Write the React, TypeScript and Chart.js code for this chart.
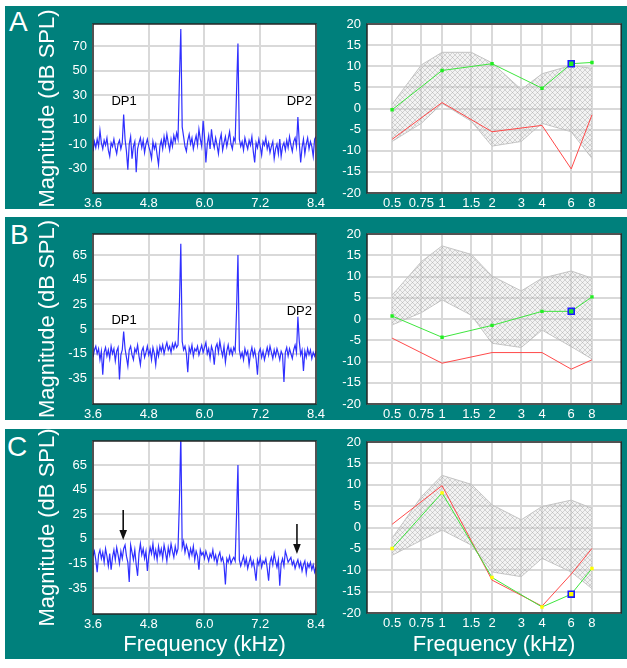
import React, { useEffect, useRef } from 'react';
import { Chart, registerables } from 'chart.js';

Chart.register(...registerables);

const FONT = "'Liberation Sans', Arial, Helvetica, sans-serif";
const TEAL = '#00807c';
const GRID = '#d9d9d9';

// ---------- Spectra (left column) ----------
const SPEC_START_KHZ = 3.6;
const SPEC_STEP_KHZ = 0.03;
const SPEC_X_TICKS = [3.6, 4.8, 6.0, 7.2, 8.4];
const SPEC_A_Y_TICKS = [70, 50, 30, 10, -10, -30];
const SPEC_BC_Y_TICKS = [65, 45, 25, 5, -15, -35];

const SPEC_A = [
  -16, -8, -13, -6, -12, 1, -9, -14, -7, -11, -5, -15, -20, -9, -12, -6, -13, -18, -10, -7,
  -14, -9, 14, -6, -16, -31, -10, -4, -22, -12, -8, -33, -14, -9, -5, -13, -7, -17, -10, -6,
  -12, -16, -22, -8, -14, -10, -19, -27, -12, -7, -14, -4, -11, -2, -9, -15, -6, -12, -3, -8,
  -1, -6, 42, 84, 4, -4, -12, -16, -7, -2, -10, -5, -14, -8, -3, -11, 2, -6, -12, 9,
  -4, -25, -10, -3, -14, 2, -8, -13, -5, -11, -18, -7, -2, -15, -9, -4, -12, -6, 0, -10,
  -14, -5, -8, 33, 72, -6, -12, -8, -15, -5, -10, -14, -7, -11, -4, -16, -25, -9, -13, -6,
  -12, -19, -8, -11, -5, -14, -9, -17, -12, -8, -22, -14, -10, -18, -6, -20, -12, -9, -15, -7,
  -13, -4, -11, -16, -8, -5, -12, 12, -9, -25, -13, -6, -18, -10, -5, -14, -8, -12, -20, -6,
  -4,
];

const SPEC_B = [
  -18, -12, -9, -15, -11, -20, -13, -32, -14, -10, -17, -12, -19, -9, -15, -11, -21, -13, -10, -36,
  -16, -12, 3, -11, -18, -25, -12, -9, -16, -20, -11, -14, -8, -17, -24, -13, -10, -18, -14, -9,
  -16, -12, -20, -10, -15, -24, -11, -17, -9, -13, -8, -15, -10, -6, -12, -9, -14, -7, -11, -6,
  -10, -8, 25, 74, -5, -12, -9, -15, -30, -10, -14, -8, -17, -11, -13, -9, -16, -12, -8, -14,
  -10, -6, -15, -11, -19, -9, -13, -24, -10, -7, -14, -5, -12, -17, -9, -22, -13, -8, -15, -11,
  -16, -10, -13, 20, 65, -12, -18, -14, -20, -11, -16, -13, -24, -15, -10, -17, -12, -19, -32, -14,
  -11, -18, -13, -20, -15, -10, -16, -9, -14, -19, -12, -17, -11, -15, -20, -13, -16, -38, -14, -10,
  -17, -11, -15, -19, -12, -8, -14, 15, -5, -16, -12, -29, -13, -18, -11, -16, -12, -19, -14, -17,
  -13,
];

const SPEC_C = [
  -9, -5, -12, -22, -8, -4, -11, -6, -14, -3, -9, -17, -7, -20, -10, -4, -12, -2, -8, -15,
  -5, -11, -3, 0, -9, -14, -30, 0, -6, -12, -4, -16, -25, -7, 1, -8, -3, -11, -5, -21,
  -9, -2, -7, 1, -10, -4, -12, -1, -8, -3, -11, 0, -6, -13, -2, -8, 1, -5, -10, -1,
  -7, -3, 35, 90, -2, 3, -6, 0, -4, -10, -3, -8, -1, -12, -5, -9, -20, -4, -8, -6,
  -11, -5, -9, -13, -7, -10, -4, -12, -8, -15, -9, -6, -13, -10, -16, -32, -11, -14, -9, -15,
  -12, -10, -13, 25, 65, -12, -17, -13, -9, -16, -11, -19, -14, -10, -17, -13, -20, -29, -12, -16,
  -10, -18, -13, -15, -11, -19, -29, -14, -10, -16, -7, -13, -18, -12, -33, -15, -11, -17, -5, -9,
  -14, -12, -10, -16, -13, -19, -15, -12, -18, -14, -21, -16, -13, -23, -15, -18, -14, -20, -16, -22,
  -18,
];

// labels / arrows in data units (kHz, dB SPL)
const NOTES_A = [
  { text: 'DP1', x: 4.27, y: 24.5 },
  { text: 'DP2', x: 8.04, y: 24.5 },
];
const NOTES_B = [
  { text: 'DP1', x: 4.27, y: 12.3 },
  { text: 'DP2', x: 8.04, y: 19.6 },
];
const ARROWS_C = [
  { x: 4.25, from: 28.4, to: 4.0 },
  { x: 7.99, from: 17.0, to: -7.3 },
];

// ---------- DP-grams (right column) ----------
const DPGRAM_X_TICKS = [0.5, 0.75, 1, 1.5, 2, 3, 4, 6, 8];
const DPGRAM_Y_TICKS = [20, 15, 10, 5, 0, -5, -10, -15, -20];
const DP_FREQS = [0.5, 1, 2, 4, 6, 8];
const NORM_FREQS = [0.5, 0.75, 1, 1.5, 2, 3, 4, 6, 8];
const PROBE_FREQ = 6;

const DP_A = [-0.3, 9.0, 10.6, 4.8, 10.6, 10.9];
const NOISE_A = [-7.3, 1.4, -5.5, -4.0, -14.3, -1.5];
const NORM_HI_A = [1.0, 10.3, 13.3, 13.3, 10.8, 4.5, 8.2, 10.2, 9.5];
const NORM_LO_A = [-7.8, -3.5, 1.2, -3.0, -8.9, -7.8, -3.5, -5.5, -11.8];

const DP_B = [0.7, -4.3, -1.5, 1.8, 1.8, 5.2];
const NOISE_B = [-4.5, -10.4, -7.9, -7.9, -11.8, -9.6];
const NORM_HI_B = [5.6, 13.5, 17.2, 15.2, 10.1, 6.6, 9.6, 11.3, 9.6];
const NORM_LO_B = [-1.4, 1.5, 4.5, 0.9, -5.7, -6.7, -2.6, -6.5, -9.4];

const DP_C = [-4.9, 8.1, -11.7, -18.6, -15.6, -9.6];
const NOISE_C = [0.75, 9.8, -12.3, -18.4, -10.9, -4.9];
const NORM_HI_C = [-2.5, 7.2, 12.2, 10.1, 5.3, 1.8, 4.9, 6.4, 4.5];
const NORM_LO_C = [-6.5, -3.0, -0.6, -4.1, -10.4, -11.5, -7.2, -10.4, -14.3];

type Geo = { top: number; bottom: number; left: number; right: number; yW: number; xH: number };
type Note = { text: string; x: number; y: number };
type Arrow = { x: number; from: number; to: number };

const PAGE_W = 627;
const PAGE_H = 668;

function framePlugin() {
  return {
    id: 'frame',
    beforeDraw(chart: any) {
      const a = chart.chartArea;
      const ctx = chart.ctx;
      ctx.save();
      ctx.fillStyle = '#ffffff';
      ctx.fillRect(a.left, a.top, a.right - a.left, a.bottom - a.top);
      ctx.restore();
    },
    afterDraw(chart: any) {
      const a = chart.chartArea;
      const ctx = chart.ctx;
      ctx.save();
      ctx.strokeStyle = '#262626';
      ctx.lineWidth = 1.5;
      ctx.strokeRect(a.left, a.top, a.right - a.left, a.bottom - a.top);
      ctx.restore();
    },
  };
}

function notesPlugin(notes: Note[], arrows: Arrow[]) {
  return {
    id: 'notes',
    afterDatasetsDraw(chart: any) {
      const ctx = chart.ctx;
      const xs = chart.scales.x;
      const ys = chart.scales.y;
      ctx.save();
      ctx.fillStyle = '#000';
      ctx.font = `13px ${FONT}`;
      ctx.textAlign = 'center';
      ctx.textBaseline = 'middle';
      notes.forEach((n) => ctx.fillText(n.text, xs.getPixelForValue(n.x), ys.getPixelForValue(n.y)));
      arrows.forEach((a) => {
        const x = xs.getPixelForValue(a.x);
        const y0 = ys.getPixelForValue(a.from);
        const y1 = ys.getPixelForValue(a.to);
        ctx.strokeStyle = '#111';
        ctx.fillStyle = '#111';
        ctx.lineWidth = 1.6;
        ctx.beginPath();
        ctx.moveTo(x, y0);
        ctx.lineTo(x, y1 - 8);
        ctx.stroke();
        ctx.beginPath();
        ctx.moveTo(x - 3.8, y1 - 10);
        ctx.lineTo(x + 3.8, y1 - 10);
        ctx.lineTo(x, y1);
        ctx.closePath();
        ctx.fill();
      });
      ctx.restore();
    },
  };
}

const tickFont = { family: FONT, size: 13 };
const titleFont = { family: FONT, size: 22 };

function spectrumConfig(
  values: number[],
  yMin: number,
  yMax: number,
  yTicks: number[],
  notes: Note[],
  arrows: Arrow[],
  xTitle: boolean,
  geo: Geo
): any {
  const pts = values.map((v, i) => ({ x: SPEC_START_KHZ + i * SPEC_STEP_KHZ, y: v }));
  return {
    type: 'line',
    data: {
      datasets: [
        {
          data: pts,
          borderColor: '#2f2fff',
          borderWidth: 1.2,
          pointRadius: 0,
          tension: 0,
          fill: false,
        },
      ],
    },
    options: {
      responsive: false,
      animation: false,
      events: [],
      layout: {
        padding: {
          left: geo.left - geo.yW,
          top: geo.top,
          right: PAGE_W - geo.right,
          bottom: PAGE_H - geo.bottom - geo.xH,
        },
      },
      plugins: { legend: { display: false }, tooltip: { enabled: false } },
      scales: {
        x: {
          type: 'linear',
          min: 3.6,
          max: 8.4,
          afterFit: (s: any) => {
            s.height = geo.xH;
          },
          afterBuildTicks: (s: any) => {
            s.ticks = SPEC_X_TICKS.map((v) => ({ value: v }));
          },
          ticks: {
            color: '#fff',
            font: tickFont,
            padding: 3,
            autoSkip: false,
            maxRotation: 0,
            callback: (v: any) => Number(v).toFixed(1),
          },
          grid: { color: GRID, lineWidth: 2, drawTicks: false },
          border: { display: false },
          title: {
            display: xTitle,
            text: 'Frequency (kHz)',
            color: '#fff',
            font: titleFont,
            padding: { top: 0, bottom: 0 },
          },
        },
        y: {
          type: 'linear',
          min: yMin,
          max: yMax,
          afterFit: (s: any) => {
            s.width = geo.yW;
          },
          afterBuildTicks: (s: any) => {
            s.ticks = yTicks.map((v) => ({ value: v }));
          },
          ticks: {
            color: '#fff',
            font: tickFont,
            padding: 6,
            autoSkip: false,
            callback: (v: any) => String(v),
          },
          grid: { color: GRID, lineWidth: 2, drawTicks: false },
          border: { display: false },
          title: {
            display: true,
            text: 'Magnitude (dB SPL)',
            color: '#fff',
            font: titleFont,
            padding: { top: 30, bottom: 0 },
          },
        },
      },
    },
    plugins: [framePlugin(), notesPlugin(notes, arrows)],
  };
}

function dpgramConfig(
  dp: number[],
  noise: number[],
  hi: number[],
  lo: number[],
  dotColor: string,
  hatch: any,
  xTitle: boolean,
  geo: Geo
): any {
  const probeIdx = DP_FREQS.indexOf(PROBE_FREQ);
  return {
    type: 'line',
    data: {
      datasets: [
        {
          data: [{ x: PROBE_FREQ, y: dp[probeIdx] }],
          showLine: false,
          pointStyle: 'rect',
          pointRadius: 4.2,
          pointBorderColor: '#1a1aff',
          pointBackgroundColor: dotColor,
          pointBorderWidth: 1.6,
        },
        {
          data: DP_FREQS.map((f, i) => ({ x: f, y: dp[i] })),
          borderColor: '#3ee63e',
          borderWidth: 1,
          pointStyle: 'rect',
          pointRadius: 2.4,
          pointBackgroundColor: dotColor,
          pointBorderColor: dotColor,
          pointBorderWidth: 0,
          tension: 0,
          fill: false,
        },
        {
          data: DP_FREQS.map((f, i) => ({ x: f, y: noise[i] })),
          borderColor: '#ff4a4a',
          borderWidth: 1,
          pointRadius: 0,
          tension: 0,
          fill: false,
        },
        {
          data: NORM_FREQS.map((f, i) => ({ x: f, y: hi[i] })),
          borderColor: '#c4c4c4',
          borderWidth: 1,
          pointRadius: 0,
          tension: 0,
          fill: '+1',
          backgroundColor: hatch,
        },
        {
          data: NORM_FREQS.map((f, i) => ({ x: f, y: lo[i] })),
          borderColor: '#c4c4c4',
          borderWidth: 1,
          pointRadius: 0,
          tension: 0,
          fill: false,
        },
      ],
    },
    options: {
      responsive: false,
      animation: false,
      events: [],
      layout: {
        padding: {
          left: geo.left - geo.yW,
          top: geo.top,
          right: PAGE_W - geo.right,
          bottom: PAGE_H - geo.bottom - geo.xH,
        },
      },
      plugins: { legend: { display: false }, tooltip: { enabled: false } },
      scales: {
        x: {
          type: 'logarithmic',
          min: 0.353,
          max: 12,
          afterFit: (s: any) => {
            s.height = geo.xH;
          },
          afterBuildTicks: (s: any) => {
            s.ticks = DPGRAM_X_TICKS.map((v) => ({ value: v }));
          },
          ticks: {
            color: '#fff',
            font: tickFont,
            padding: 3,
            autoSkip: false,
            maxRotation: 0,
            callback: (v: any) => String(v),
          },
          grid: { color: GRID, lineWidth: 2, drawTicks: false },
          border: { display: false },
          title: {
            display: xTitle,
            text: 'Frequency (kHz)',
            color: '#fff',
            font: titleFont,
            padding: { top: 0, bottom: 0 },
          },
        },
        y: {
          type: 'linear',
          min: -20,
          max: 20,
          afterFit: (s: any) => {
            s.width = geo.yW;
          },
          afterBuildTicks: (s: any) => {
            s.ticks = DPGRAM_Y_TICKS.map((v) => ({ value: v }));
          },
          ticks: {
            color: '#fff',
            font: tickFont,
            padding: 6,
            autoSkip: false,
            callback: (v: any) => String(v),
          },
          grid: { color: GRID, lineWidth: 2, drawTicks: false },
          border: { display: false },
        },
      },
    },
    plugins: [framePlugin()],
  };
}

function makeHatch(): any {
  const c = document.createElement('canvas');
  c.width = 5;
  c.height = 5;
  const g = c.getContext('2d');
  if (!g) return 'rgba(180,180,180,0.4)';
  g.fillStyle = 'rgba(220,220,220,0.35)';
  g.fillRect(0, 0, 5, 5);
  g.strokeStyle = 'rgba(140,140,140,0.55)';
  g.lineWidth = 0.6;
  g.beginPath();
  g.moveTo(0, 0);
  g.lineTo(5, 5);
  g.moveTo(5, 0);
  g.lineTo(0, 5);
  g.stroke();
  return g.createPattern(c, 'repeat');
}

const PANELS = [
  { letter: 'A', top: 6, height: 203, letterTop: 8, letterLeft: 9 },
  { letter: 'B', top: 217, height: 203, letterTop: 221, letterLeft: 10 },
  { letter: 'C', top: 429, height: 230, letterTop: 433, letterLeft: 7 },
];

export default function App() {
  const r0 = useRef<HTMLCanvasElement>(null);
  const r1 = useRef<HTMLCanvasElement>(null);
  const r2 = useRef<HTMLCanvasElement>(null);
  const r3 = useRef<HTMLCanvasElement>(null);
  const r4 = useRef<HTMLCanvasElement>(null);
  const r5 = useRef<HTMLCanvasElement>(null);
  const refs = [r0, r1, r2, r3, r4, r5];

  useEffect(() => {
    const hatch = makeHatch();
    const charts: Chart[] = [];
    charts.push(
      new Chart(
        r0.current!,
        spectrumConfig(SPEC_A, -50, 88, SPEC_A_Y_TICKS, NOTES_A, [], false, {
          top: 24, bottom: 193, left: 93, right: 316, yW: 88, xH: 30,
        })
      )
    );
    charts.push(
      new Chart(
        r1.current!,
        dpgramConfig(DP_A, NOISE_A, NORM_HI_A, NORM_LO_A, '#22ee22', hatch, false, {
          top: 24, bottom: 193, left: 367, right: 622, yW: 37, xH: 30,
        })
      )
    );
    charts.push(
      new Chart(
        r2.current!,
        spectrumConfig(SPEC_B, -55.8, 82, SPEC_BC_Y_TICKS, NOTES_B, [], false, {
          top: 234, bottom: 404, left: 93, right: 316, yW: 88, xH: 30,
        })
      )
    );
    charts.push(
      new Chart(
        r3.current!,
        dpgramConfig(DP_B, NOISE_B, NORM_HI_B, NORM_LO_B, '#22ee22', hatch, false, {
          top: 234, bottom: 404, left: 367, right: 622, yW: 37, xH: 30,
        })
      )
    );
    charts.push(
      new Chart(
        r4.current!,
        spectrumConfig(SPEC_C, -56, 84.5, SPEC_BC_Y_TICKS, [], ARROWS_C, true, {
          top: 441, bottom: 614, left: 93, right: 316, yW: 88, xH: 44,
        })
      )
    );
    charts.push(
      new Chart(
        r5.current!,
        dpgramConfig(DP_C, NOISE_C, NORM_HI_C, NORM_LO_C, '#ffff00', hatch, true, {
          top: 442, bottom: 613, left: 367, right: 622, yW: 37, xH: 45,
        })
      )
    );
    return () => charts.forEach((c) => c.destroy());
  }, []);

  return (
    <div
      style={{
        position: 'absolute',
        left: 0,
        top: 0,
        width: PAGE_W,
        height: PAGE_H,
        background: '#ffffff',
        overflow: 'hidden',
        fontFamily: FONT,
      }}
    >
      {PANELS.map((p) => (
        <div
          key={'bg' + p.letter}
          style={{ position: 'absolute', left: 5, top: p.top, width: PAGE_W - 5, height: p.height, background: TEAL }}
        />
      ))}
      {PANELS.map((p) => (
        <div
          key={'lt' + p.letter}
          style={{
            position: 'absolute',
            left: p.letterLeft,
            top: p.letterTop,
            color: '#fff',
            fontSize: 28,
            lineHeight: '28px',
            fontFamily: FONT,
          }}
        >
          {p.letter}
        </div>
      ))}
      {refs.map((r, i) => (
        <canvas
          key={i}
          ref={r}
          width={PAGE_W}
          height={PAGE_H}
          style={{ position: 'absolute', left: 0, top: 0, width: PAGE_W, height: PAGE_H }}
        />
      ))}
    </div>
  );
}
